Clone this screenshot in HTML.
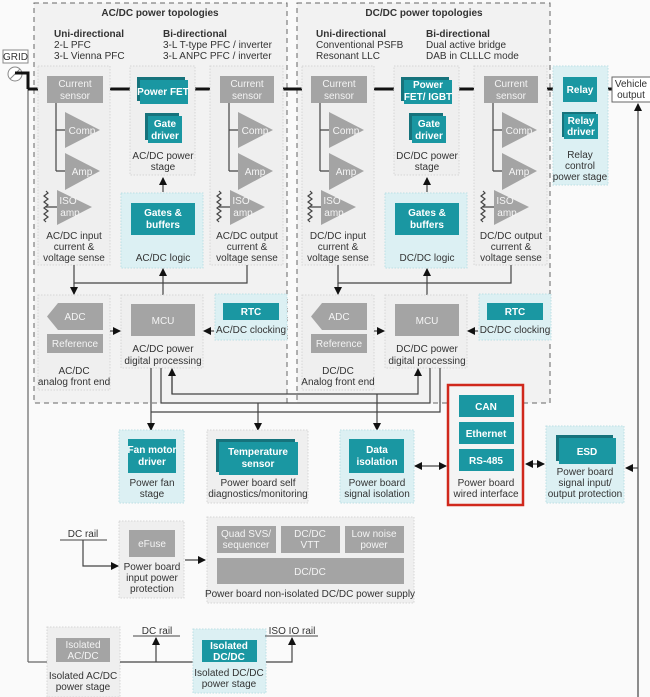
<!DOCTYPE html>
<html><head><meta charset="utf-8"><style>
html,body{margin:0;padding:0;background:#fff;}
svg{display:block;font-family:"Liberation Sans",sans-serif;}
.t{font-size:10px;fill:#333;text-anchor:middle;}
.tl{font-size:10px;fill:#333;}
.b{font-weight:bold;}
.w{font-size:10px;fill:#fff;text-anchor:middle;font-weight:bold;}
.wg{font-size:10px;fill:#f4f4f4;text-anchor:middle;}
.box{fill:#efefef;stroke:#d6d6d6;stroke-dasharray:1.5 1.5;}
.cy{fill:#dcf0f3;stroke:#bcdfe4;stroke-dasharray:1.5 1.5;}
.tea{fill:#1a97a2;}
.tsh{fill:#16737c;}
.gr{fill:#a4a4a4;}
.ln{stroke:#444;stroke-width:1.2;fill:none;}
.pw{stroke:#111;stroke-width:3;fill:none;}
</style></head><body>
<svg width="650" height="697" viewBox="0 0 650 697" xmlns="http://www.w3.org/2000/svg">
<defs>
<marker id="a" markerWidth="8" markerHeight="8" refX="7" refY="4" orient="auto" markerUnits="userSpaceOnUse"><path d="M0,0 L8,4 L0,8 z" fill="#111"/></marker>
<marker id="s" markerWidth="8" markerHeight="8" refX="1" refY="4" orient="auto" markerUnits="userSpaceOnUse"><path d="M8,0 L0,4 L8,8 z" fill="#111"/></marker>
</defs>
<rect x="0" y="0" width="650" height="697" fill="#fafafa"/>
<rect x="34" y="3" width="253" height="400" fill="#f2f2f2" stroke="#666" stroke-dasharray="5 4"/>
<rect x="297" y="3" width="253" height="400" fill="#f2f2f2" stroke="#666" stroke-dasharray="5 4"/>
<text x="160" y="16" class="t b">AC/DC power topologies</text>
<text x="424" y="16" class="t b">DC/DC power topologies</text>
<text x="54" y="37" class="tl b">Uni-directional</text>
<text x="54" y="48" class="tl">2-L PFC</text>
<text x="54" y="59" class="tl">3-L Vienna PFC</text>
<text x="163" y="37" class="tl b">Bi-directional</text>
<text x="163" y="48" class="tl">3-L T-type PFC / inverter</text>
<text x="163" y="59" class="tl">3-L ANPC PFC / inverter</text>
<text x="316" y="37" class="tl b">Uni-directional</text>
<text x="316" y="48" class="tl">Conventional PSFB</text>
<text x="316" y="59" class="tl">Resonant LLC</text>
<text x="426" y="37" class="tl b">Bi-directional</text>
<text x="426" y="48" class="tl">Dual active bridge</text>
<text x="426" y="59" class="tl">DAB in CLLLC mode</text>

<rect x="3" y="50" width="25" height="13" fill="#fff" stroke="#888"/>
<text x="15.5" y="60" class="t">GRID</text>
<circle cx="15" cy="74" r="7" fill="#fff" stroke="#888"/>
<line x1="10" y1="79" x2="20" y2="69" stroke="#888"/>
<path d="M15,73 L28,73 L28,89" class="pw" stroke-width="2"/>
<line x1="28" y1="89" x2="28" y2="662" stroke="#666" stroke-width="1.2"/>
<line x1="28" y1="662" x2="47" y2="662" stroke="#666" stroke-width="1.2"/>

<g class="pw">
<line x1="28" y1="89" x2="47" y2="89"/><line x1="103" y1="89" x2="137" y2="89"/><line x1="188" y1="89" x2="220" y2="89"/><line x1="274" y1="89" x2="311" y2="89"/><line x1="367" y1="89" x2="401" y2="89"/><line x1="452" y1="89" x2="484" y2="89"/><line x1="538" y1="89" x2="563" y2="89"/><line x1="597" y1="89" x2="612" y2="89"/>
</g>

<g id="sec">
<rect x="38" y="66" width="72" height="199" class="box"/>
<rect x="47" y="76" width="56" height="27" class="gr"/>
<text x="75" y="87" class="wg">Current</text><text x="75" y="99" class="wg">sensor</text>
<path d="M56,103 V171 M56,130 H65 M56,171 H65" class="ln"/>
<polygon points="65,112 65,148 100,130" class="gr"/><text x="82" y="134" class="wg">Comp</text>
<polygon points="65,153 65,190 100,171" class="gr"/><text x="82" y="175" class="wg">Amp</text>
<polygon points="57,190 57,225 92,207" class="gr"/><text x="68" y="204" class="wg">ISO</text><text x="70" y="216" class="wg">amp</text>
<path d="M46,191 l2,2 l-4,3 l4,3 l-4,3 l4,3 l-4,3 l4,3 l-4,3 l4,3 l-4,3 l2,2 M46,207 H57" class="ln" stroke-width="0.8"/>
<rect x="130" y="66" width="65" height="109" class="box"/>
<rect x="137" y="77" width="48" height="24" class="tsh"/><rect x="140" y="80" width="48" height="24" class="tea"/>
<rect x="145" y="113" width="34" height="27" class="tsh"/><rect x="148" y="116" width="34" height="27" class="tea"/>
<rect x="121" y="193" width="82" height="75" class="cy"/>
<rect x="131" y="203" width="64" height="32" class="tea"/>
<text x="163" y="216" class="w">Gates &amp;</text><text x="163" y="228" class="w">buffers</text>
<line x1="163" y1="192" x2="163" y2="178" class="ln" marker-end="url(#a)"/>
<rect x="210" y="66" width="73" height="199" class="box"/>
<rect x="220" y="76" width="54" height="27" class="gr"/>
<text x="247" y="87" class="wg">Current</text><text x="247" y="99" class="wg">sensor</text>
<path d="M229,103 V171 M229,130 H238 M229,171 H238" class="ln"/>
<polygon points="238,112 238,148 273,130" class="gr"/><text x="255" y="134" class="wg">Comp</text>
<polygon points="238,153 238,190 273,171" class="gr"/><text x="255" y="175" class="wg">Amp</text>
<polygon points="230,190 230,225 265,207" class="gr"/><text x="241" y="204" class="wg">ISO</text><text x="243" y="216" class="wg">amp</text>
<path d="M219,191 l2,2 l-4,3 l4,3 l-4,3 l4,3 l-4,3 l4,3 l-4,3 l4,3 l-4,3 l2,2 M219,207 H230" class="ln" stroke-width="0.8"/>
<path d="M74,265 V283 H247 V265" class="ln"/>
<line x1="74" y1="283" x2="74" y2="294" class="ln" marker-end="url(#a)"/>
<line x1="163" y1="295" x2="163" y2="269" class="ln" marker-end="url(#a)"/>
<rect x="38" y="295" width="72" height="95" class="box"/>
<polygon points="58,303 103,303 103,330 58,330 47,316.5" class="gr"/>
<text x="75" y="320" class="wg">ADC</text>
<rect x="47" y="334" width="56" height="19" class="gr"/>
<text x="75" y="347" class="wg">Reference</text>
<rect x="121" y="295" width="82" height="73" class="box"/>
<rect x="131" y="304" width="64" height="32" class="gr"/>
<text x="163" y="324" class="wg">MCU</text>
<line x1="110" y1="331" x2="120" y2="331" class="ln" marker-end="url(#a)"/>
<rect x="215" y="294" width="72" height="46" class="cy"/>
<rect x="223" y="303" width="56" height="17" class="tea"/>
<text x="251" y="315" class="w">RTC</text>
<line x1="214" y1="331" x2="204" y2="331" class="ln" marker-end="url(#a)"/>
</g>
<use href="#sec" transform="translate(264,0)"/>

<text x="74" y="239" class="t">AC/DC input</text><text x="74" y="250" class="t">current &amp;</text><text x="74" y="261" class="t">voltage sense</text>
<text x="163" y="95" class="w">Power FET</text>
<text x="165" y="127" class="w">Gate</text><text x="165" y="139" class="w">driver</text>
<text x="163" y="159" class="t">AC/DC power</text><text x="163" y="170" class="t">stage</text>
<text x="163" y="261" class="t">AC/DC logic</text>
<text x="247" y="239" class="t">AC/DC output</text><text x="247" y="250" class="t">current &amp;</text><text x="247" y="261" class="t">voltage sense</text>
<text x="74" y="374" class="t">AC/DC</text><text x="74" y="385" class="t">analog front end</text>
<text x="163" y="352" class="t">AC/DC power</text><text x="163" y="364" class="t">digital processing</text>
<text x="251" y="333" class="t">AC/DC clocking</text>

<text x="428" y="88" class="w">Power</text><text x="428" y="100" class="w">FET/ IGBT</text>
<text x="429" y="127" class="w">Gate</text><text x="429" y="139" class="w">driver</text>
<text x="427" y="159" class="t">DC/DC power</text><text x="427" y="170" class="t">stage</text>
<text x="427" y="261" class="t">DC/DC logic</text>
<text x="338" y="239" class="t">DC/DC input</text><text x="338" y="250" class="t">current &amp;</text><text x="338" y="261" class="t">voltage sense</text>
<text x="511" y="239" class="t">DC/DC output</text><text x="511" y="250" class="t">current &amp;</text><text x="511" y="261" class="t">voltage sense</text>
<text x="338" y="374" class="t">DC/DC</text><text x="338" y="385" class="t">Analog front end</text>
<text x="427" y="352" class="t">DC/DC power</text><text x="427" y="364" class="t">digital processing</text>
<text x="515" y="333" class="t">DC/DC clocking</text>

<rect x="553" y="66" width="55" height="119" class="cy"/>
<rect x="563" y="77" width="34" height="25" class="tea"/>
<text x="580" y="93" class="w">Relay</text>
<rect x="562" y="112" width="34" height="25" class="tsh"/><rect x="564" y="114" width="34" height="25" class="tea"/>
<text x="581" y="124" class="w">Relay</text><text x="581" y="135" class="w">driver</text>
<text x="580" y="158" class="t">Relay</text><text x="580" y="169" class="t">control</text><text x="580" y="180" class="t">power stage</text>
<rect x="612" y="77" width="40" height="25" fill="#fff" stroke="#666"/>
<text x="631" y="87" class="t">Vehicle</text><text x="631" y="98" class="t">output</text>
<line x1="638" y1="697" x2="638" y2="104" class="ln" marker-end="url(#a)"/>
<line x1="638" y1="468" x2="626" y2="468" class="ln" marker-end="url(#a)"/>

<path d="M151,368 V430" class="ln" marker-end="url(#a)"/>
<path d="M161,368 V403 H430 V368" class="ln"/>
<path d="M172,369 V394 H418 V369" class="ln" marker-end="url(#a)"/>
<line x1="172" y1="394" x2="172" y2="369" class="ln" marker-end="url(#a)"/>
<path d="M151,412 H440 V368" class="ln"/>
<line x1="258" y1="403" x2="258" y2="430" class="ln" marker-end="url(#a)"/>
<line x1="377" y1="394" x2="377" y2="430" class="ln" marker-end="url(#a)"/>

<rect x="119" y="430" width="65" height="73" class="cy"/>
<rect x="128" y="439" width="48" height="34" class="tea"/>
<text x="152" y="453" class="w">Fan motor</text><text x="152" y="465" class="w">driver</text>
<text x="152" y="486" class="t">Power fan</text><text x="152" y="497" class="t">stage</text>

<rect x="207" y="430" width="101" height="73" class="box"/>
<rect x="216" y="439" width="79" height="33" class="tsh"/><rect x="219" y="442" width="79" height="33" class="tea"/>
<text x="258" y="455" class="w">Temperature</text><text x="258" y="467" class="w">sensor</text>
<text x="258" y="486" class="t">Power board self</text><text x="258" y="497" class="t">diagnostics/monitoring</text>

<rect x="340" y="430" width="74" height="73" class="cy"/>
<rect x="349" y="439" width="55" height="34" class="tea"/>
<text x="377" y="453" class="w">Data</text><text x="377" y="465" class="w">isolation</text>
<text x="377" y="486" class="t">Power board</text><text x="377" y="497" class="t">signal isolation</text>

<line x1="415" y1="466" x2="446" y2="466" class="ln" marker-start="url(#s)" marker-end="url(#a)"/>

<rect x="448" y="385" width="75" height="120" fill="#f4f4f4" stroke="#d0281c" stroke-width="2.5"/>
<rect x="459" y="395" width="55" height="22" class="tea"/><text x="486" y="410" class="w">CAN</text>
<rect x="459" y="422" width="55" height="22" class="tea"/><text x="486" y="437" class="w">Ethernet</text>
<rect x="459" y="449" width="55" height="22" class="tea"/><text x="486" y="464" class="w">RS-485</text>
<text x="486" y="486" class="t">Power board</text><text x="486" y="497" class="t">wired interface</text>

<line x1="526" y1="464" x2="544" y2="464" class="ln" marker-start="url(#s)" marker-end="url(#a)"/>

<rect x="546" y="426" width="78" height="77" class="cy"/>
<rect x="556" y="435" width="57" height="26" class="tsh"/><rect x="559" y="438" width="57" height="26" class="tea"/>
<text x="587" y="455" class="w">ESD</text>
<text x="585" y="475" class="t">Power board</text><text x="585" y="486" class="t">signal input/</text><text x="585" y="497" class="t">output protection</text>

<text x="83" y="537" class="t">DC rail</text>
<line x1="60" y1="540" x2="107" y2="540" stroke="#444"/>
<path d="M83,540 V566 H118" class="ln" marker-end="url(#a)"/>
<rect x="119" y="521" width="65" height="77" class="box"/>
<rect x="129" y="530" width="46" height="27" class="gr"/>
<text x="152" y="547" class="wg">eFuse</text>
<text x="152" y="570" class="t">Power board</text><text x="152" y="581" class="t">input power</text><text x="152" y="592" class="t">protection</text>
<line x1="185" y1="560" x2="205" y2="560" class="ln" marker-end="url(#a)"/>

<rect x="207" y="517" width="207" height="86" class="box"/>
<rect x="217" y="526" width="59" height="27" class="gr"/><text x="246" y="537" class="wg">Quad SVS/</text><text x="246" y="548" class="wg">sequencer</text>
<rect x="281" y="526" width="59" height="27" class="gr"/><text x="310" y="537" class="wg">DC/DC</text><text x="310" y="548" class="wg">VTT</text>
<rect x="345" y="526" width="59" height="27" class="gr"/><text x="374" y="537" class="wg">Low noise</text><text x="374" y="548" class="wg">power</text>
<rect x="217" y="558" width="187" height="26" class="gr"/><text x="310" y="575" class="wg">DC/DC</text>
<text x="310" y="597" class="t">Power board non-isolated DC/DC power supply</text>

<rect x="47" y="627" width="73" height="70" class="box"/>
<rect x="56" y="638" width="54" height="24" class="gr"/>
<text x="83" y="648" class="wg">Isolated</text><text x="83" y="659" class="wg">AC/DC</text>
<text x="83" y="679" class="t">Isolated AC/DC</text><text x="83" y="690" class="t">power stage</text>
<text x="157" y="634" class="t">DC rail</text>
<line x1="133" y1="636" x2="180" y2="636" stroke="#444"/>
<line x1="120" y1="662" x2="193" y2="662" class="ln"/>
<line x1="156" y1="662" x2="156" y2="638" class="ln" marker-end="url(#a)"/>
<rect x="193" y="629" width="73" height="64" class="cy"/>
<rect x="202" y="640" width="55" height="22" class="tea"/>
<text x="229" y="649" class="w">Isolated</text><text x="229" y="660" class="w">DC/DC</text>
<text x="229" y="676" class="t">Isolated DC/DC</text><text x="229" y="687" class="t">power stage</text>
<path d="M266,662 H292 V638" class="ln" marker-end="url(#a)"/>
<text x="292" y="634" class="t">ISO IO rail</text>
<line x1="265" y1="636" x2="318" y2="636" stroke="#444"/>
</svg>
</body></html>
